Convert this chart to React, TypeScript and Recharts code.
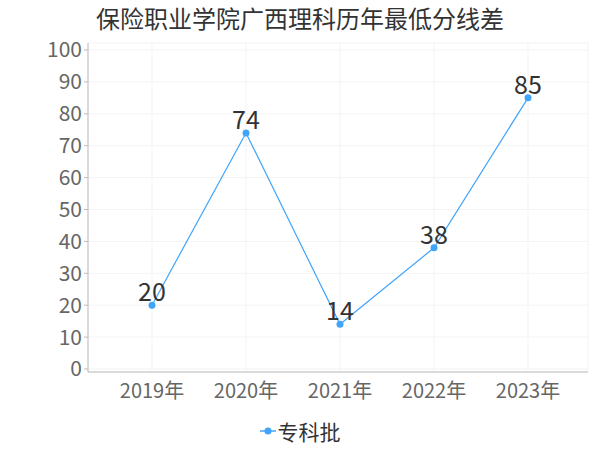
import { LineChart, Line, XAxis, YAxis, CartesianGrid, Legend, LabelList } from "recharts";

const years = ["2019年", "2020年", "2021年", "2022年", "2023年"];
const scores = [20, 74, 14, 38, 85];
const yTicks = [0, 10, 20, 30, 40, 50, 60, 70, 80, 90, 100];
const seriesName = "专科批";
const title = "保险职业学院广西理科历年最低分线差";

const data = years.map((year, i) => ({ year, value: scores[i] }));

const FONT = "'Noto Sans CJK SC', 'Noto Sans', sans-serif";
const LINE_COLOR = "#40a4fb";

function LegendContent() {
  return (
    <div
      style={{
        display: "flex",
        justifyContent: "center",
        alignItems: "center",
        fontFamily: FONT,
        fontSize: 21,
        color: "#333",
        height: 30,
      }}
    >
      <svg width={16} height={12} style={{ marginRight: 2 }}>
        <line x1={0} y1={6} x2={16} y2={6} stroke={LINE_COLOR} strokeWidth={1.5} />
        <circle cx={8} cy={6} r={3.5} fill={LINE_COLOR} />
      </svg>
      <span>{seriesName}</span>
    </div>
  );
}

export default function App() {
  return (
    <div style={{ position: "absolute", left: 0, top: 0, width: 600, height: 450, background: "#fff" }}>
      <div
        style={{
          position: "absolute",
          top: 0,
          left: 0,
          width: 600,
          textAlign: "center",
          fontFamily: FONT,
          fontSize: 24,
          lineHeight: "36px",
          color: "#333",
        }}
      >
        {title}
      </div>
      <LineChart
        width={600}
        height={450}
        data={data}
        margin={{ top: 43, right: 12, left: 0, bottom: 8 }}
      >
        <CartesianGrid stroke="#f3f3f3" />
        <XAxis
          dataKey="year"
          padding={{ left: 64, right: 60 }}
          height={40}
          tick={{ fill: "#666", fontSize: 20, fontFamily: FONT }}
          tickLine={false}
          axisLine={{ stroke: "#bbb" }}
          tickMargin={6}
        />
        <YAxis
          domain={[0, 100]}
          ticks={yTicks}
          width={88}
          padding={{ top: 7, bottom: 3 }}
          tick={{ fill: "#666", fontSize: 21, fontFamily: FONT }}
          tickLine={{ stroke: "#bbb" }}
          tickSize={4}
          axisLine={{ stroke: "#bbb" }}
          interval={0}
        />
        <Legend
          content={<LegendContent />}
          wrapperStyle={{ position: "absolute", top: 416, left: 0, width: 600 }}
        />
        <Line
          name={seriesName}
          dataKey="value"
          stroke={LINE_COLOR}
          strokeWidth={1.2}
          dot={{ r: 3.5, fill: LINE_COLOR, stroke: LINE_COLOR, strokeWidth: 0 }}
          isAnimationActive={false}
        >
          <LabelList
            dataKey="value"
            position="top"
            offset={4}
            style={{ fill: "#333", fontSize: 25, fontFamily: FONT }}
          />
        </Line>
      </LineChart>
    </div>
  );
}
